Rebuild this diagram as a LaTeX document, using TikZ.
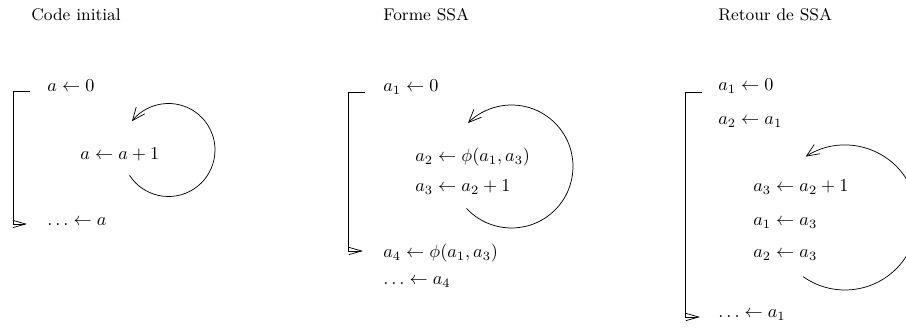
\documentclass[tikz,border=0pt]{standalone}
\usetikzlibrary{arrows.meta}
\begin{document}
\begin{tikzpicture}[x=0.55pt,y=0.55pt,
  code/.style={anchor=west,inner sep=0pt,font=\fontsize{10.4}{12}\selectfont},
  title/.style={anchor=west,inner sep=0pt,font=\fontsize{9.3}{11}\selectfont},
  brk/.style={line width=0.4pt,-{Straight Barb[length=7pt,width=4pt]}},
  loopar/.style={line width=0.4pt,-{Straight Barb[length=7pt,width=6pt]}}]
\clip (0,0) rectangle (906,331);
% Panel 1
\node[title] (t1) at (31,316) {Code initial};
\node[code] (p1a) at (47,245) {$a \leftarrow 0$};
\node[code] (p1b) at (80,177) {$a \leftarrow a+1$};
\node[code] (p1c) at (47,109) {$\ldots \leftarrow a$};
\coordinate (b1t) at (30,240);
\coordinate (b1b) at (27,107);
\draw[brk] (b1t) -- (13,240) |- (b1b);
\coordinate (c1) at (168.5,181);
\draw[loopar] (c1) ++(213:46.5) arc[start angle=213,end angle=501.7,radius=46.5];
% Panel 2
\node[title] (t2) at (383,316) {Forme SSA};
\node[code] (p2a) at (383,244) {$a_1 \leftarrow 0$};
\node[code] (p2b) at (415,174) {$a_2 \leftarrow \phi(a_1,a_3)$};
\node[code] (p2c) at (415,144) {$a_3 \leftarrow a_2+1$};
\node[code] (p2d) at (383,78) {$a_4 \leftarrow \phi(a_1,a_3)$};
\node[code] (p2e) at (383,49) {$\ldots \leftarrow a_4$};
\coordinate (b2t) at (365,239);
\coordinate (b2b) at (363,80);
\draw[brk] (b2t) -- (348,239) |- (b2b);
\coordinate (c2) at (511.5,164.5);
\draw[loopar] (c2) ++(223:61.5) arc[start angle=223,end angle=495,radius=61.5];
% Panel 3
\node[title] (t3) at (718,316) {Retour de SSA};
\node[code] (p3a) at (718,245) {$a_1 \leftarrow 0$};
\node[code] (p3b) at (718,209) {$a_2 \leftarrow a_1$};
\node[code] (p3c) at (753,144) {$a_3 \leftarrow a_2+1$};
\node[code] (p3d) at (753,108) {$a_1 \leftarrow a_3$};
\node[code] (p3e) at (753,76) {$a_2 \leftarrow a_3$};
\node[code] (p3f) at (718,16) {$\ldots \leftarrow a_1$};
\coordinate (b3t) at (702,239);
\coordinate (b3b) at (700,14);
\draw[brk] (b3t) -- (685,239) |- (b3b);
\coordinate (c3) at (845,113.5);
\draw[loopar] (c3) ++(234.8:72.5) arc[start angle=234.8,end angle=482.8,radius=72.5];
\end{tikzpicture}
\end{document}
